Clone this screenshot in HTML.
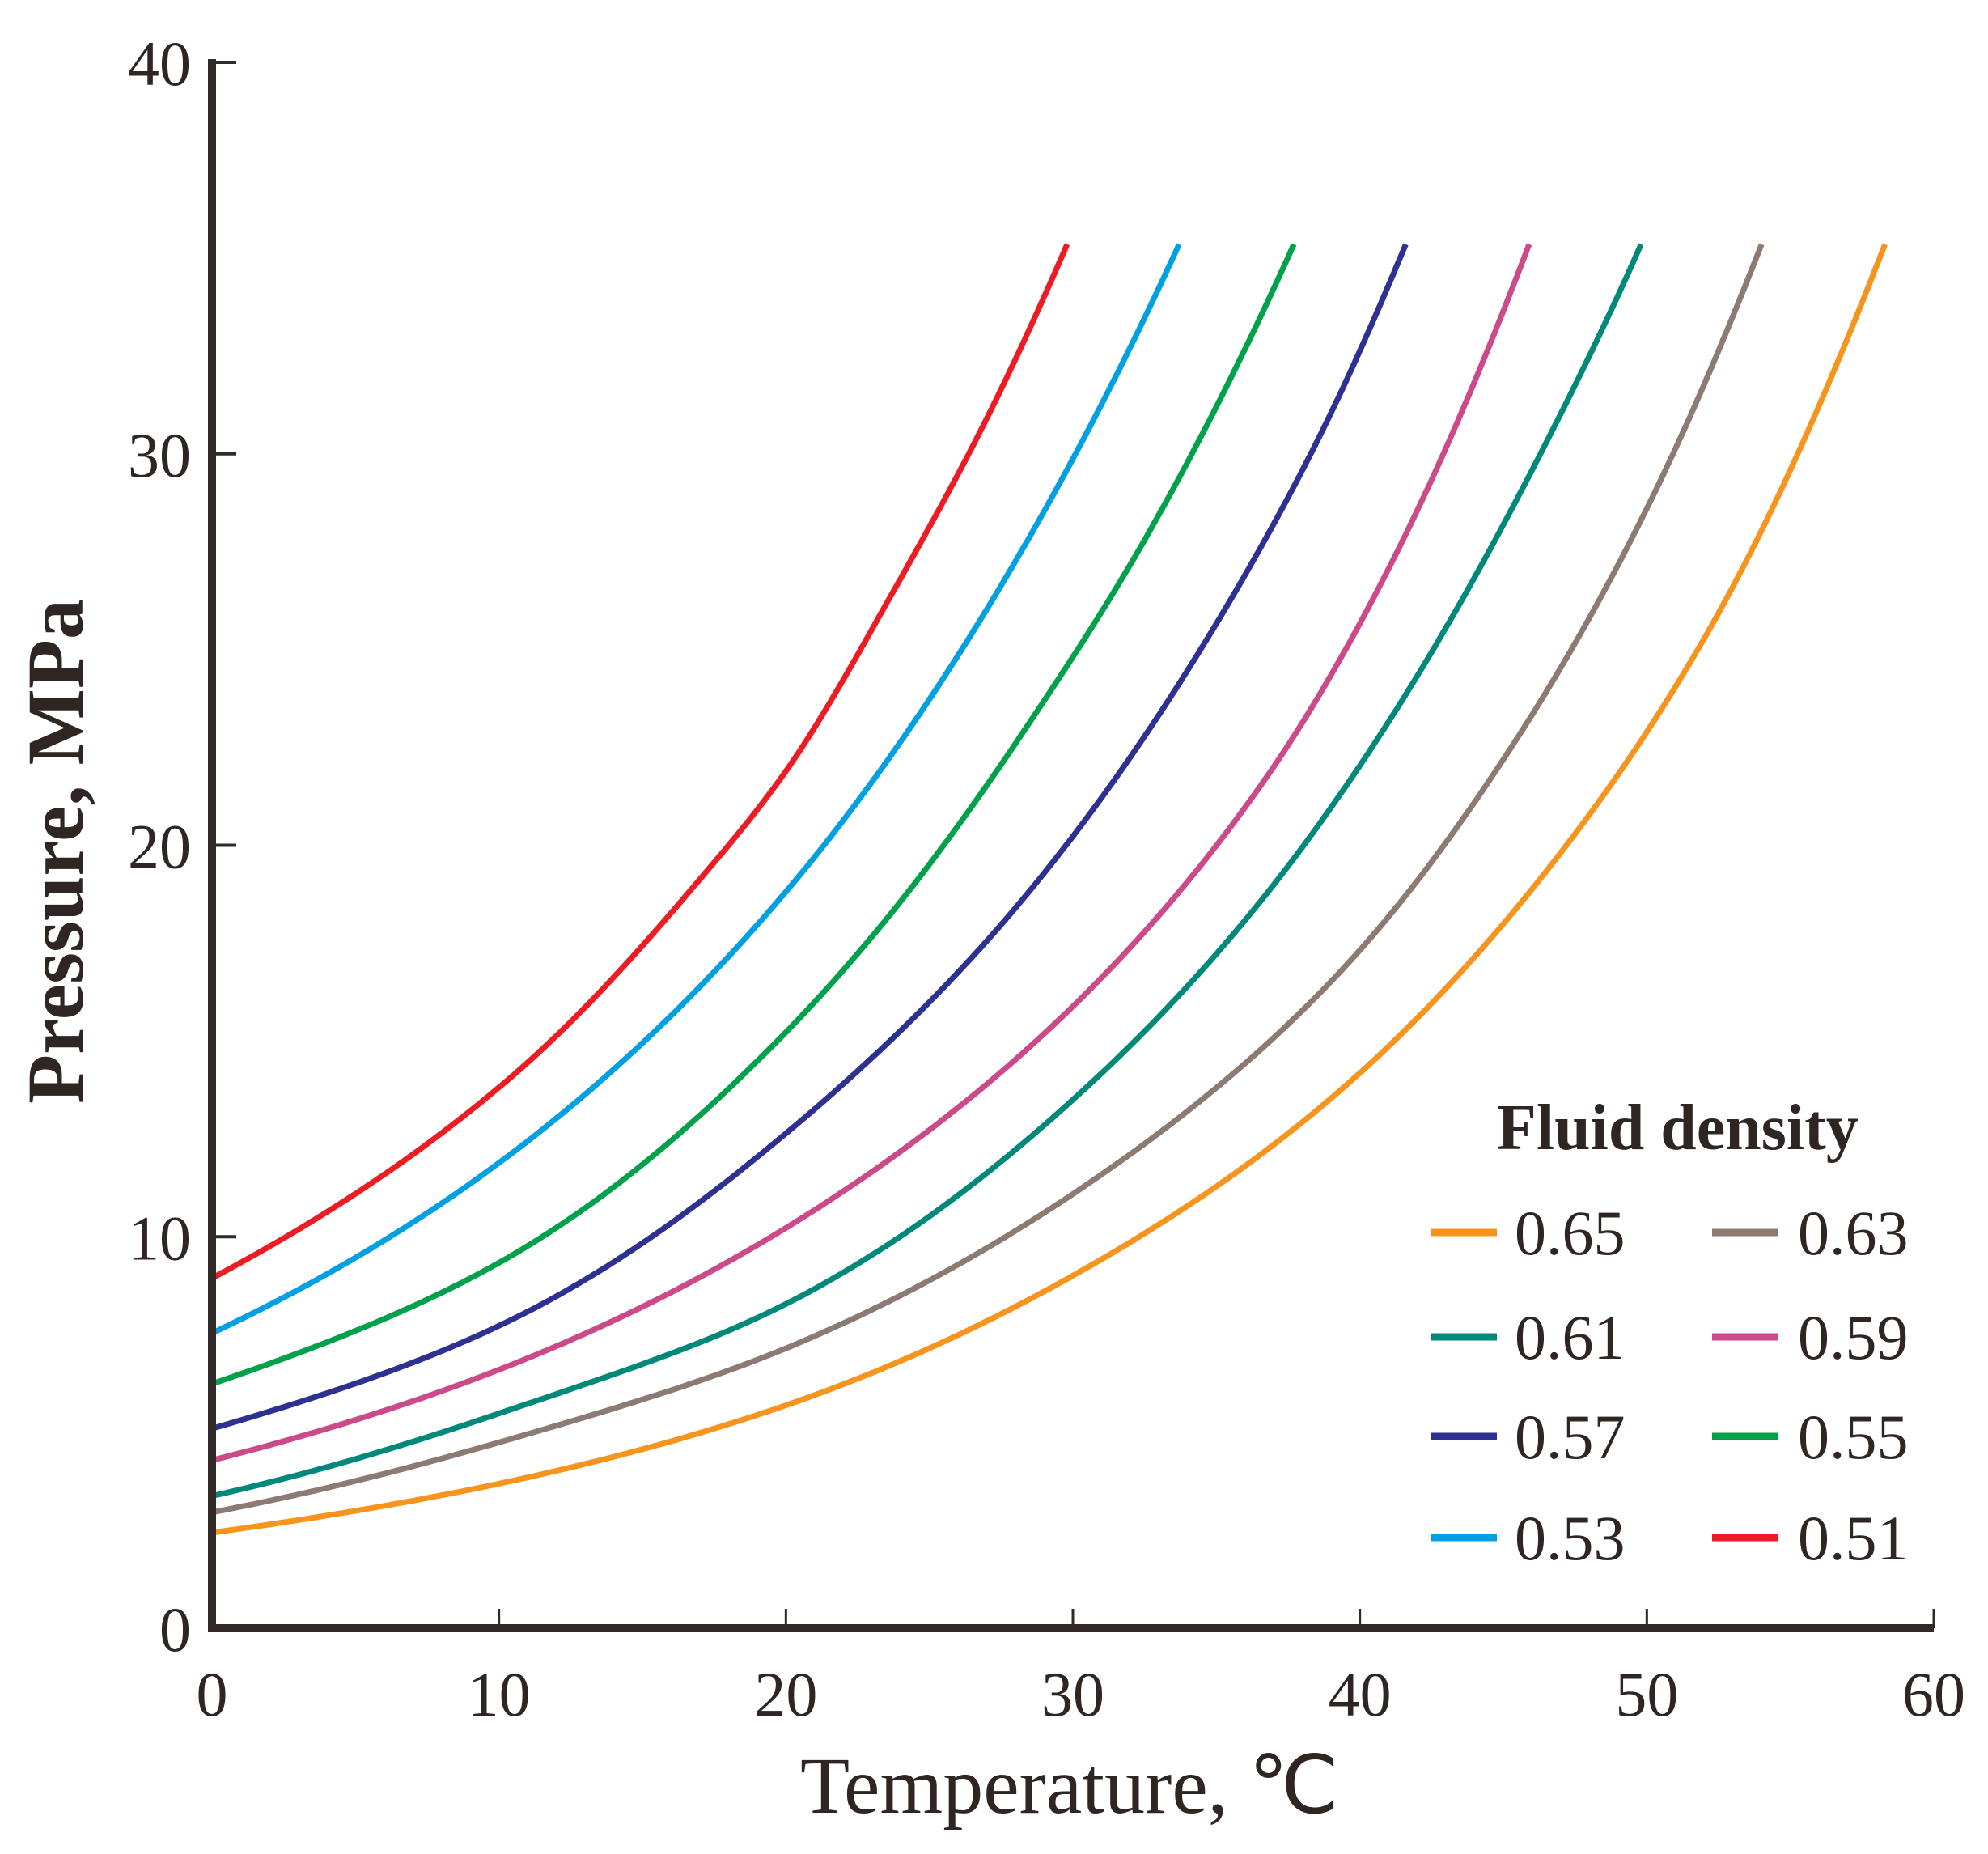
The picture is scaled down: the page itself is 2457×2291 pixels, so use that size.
<!DOCTYPE html>
<html><head><meta charset="utf-8"><style>
html,body{margin:0;padding:0;background:#fff;}
svg{display:block;}
text{font-family:"Liberation Serif",serif;fill:#2f2624;}
</style></head><body>
<svg id="chart" width="2457" height="2291" viewBox="0 0 2457 2291" xmlns="http://www.w3.org/2000/svg">
<g id="plot"></g>
<g id="axes"></g>
<g id="legend"></g>
</svg>
<script>
const xTicks=[0,10,20,30,40,50,60];
const yTicks=[0,10,20,30,40];
const seriesNames=["0.65","0.63","0.61","0.59","0.57","0.55","0.53","0.51"];
const seriesColors=["#f7941d","#8c7b73","#00897b","#cc4a8a","#2e3192","#00a14b","#00a0e3","#ed1c24"];
const tOrange=[0,10.3,20.1,30.3,39.1,45.8,52.4,58.3];
const pOrange=[2.44,3.74,5.72,9.13,13.6,18.7,25.8,35.35];
const tBrown=[0,10.3,20.1,30.3,39.1,45.8,50.2,54.0];
const pBrown=[2.96,4.81,7.18,11.24,16.6,23.1,28.9,35.35];
const tTeal=[0,10.3,20.1,30.3,36.9,41.3,45.8,49.8];
const pTeal=[3.38,5.56,8.32,13.7,18.9,23.5,29.3,35.35];
const tPink=[0,10.3,20.1,30.3,36.9,41.3,45.9];
const pPink=[4.29,6.69,10.27,16.1,21.9,27.5,35.35];
const tNavy=[0,10.3,20.1,28,34.7,38.7,41.6];
const pNavy=[5.1,7.83,12.7,18.4,25.3,30.6,35.35];
const tGreen=[0,10.3,20.1,28.0,32.5,37.7];
const pGreen=[6.24,9.46,15.3,22.6,27.8,35.35];
const tBlue=[0,10.3,20.1,26.3,29.8,33.7];
const pBlue=[7.54,12.05,18.9,25.2,29.6,35.35];
const tRed=[0,10.3,16.5,20.1,23.6,27.2,29.8];
const pRed=[8.94,14.0,18.7,22.0,26.3,31.2,35.35];
const seriesT=[tOrange,tBrown,tTeal,tPink,tNavy,tGreen,tBlue,tRed];
const seriesP=[pOrange,pBrown,pTeal,pPink,pNavy,pGreen,pBlue,pRed];

const X0=262,X1=2390,Y0=2012,Y1=77;
function xs(v){return X0+(v-0)/(60-0)*(X1-X0);}
function ys(v){return Y0-(v-0)/(40-0)*(Y0-Y1);}
const NS="http://www.w3.org/2000/svg";
function mk(tag,attrs,parent){const e=document.createElementNS(NS,tag);for(const k in attrs)e.setAttribute(k,attrs[k]);parent.appendChild(e);return e;}
const plot=document.getElementById('plot'),axes=document.getElementById('axes'),legend=document.getElementById('legend');

function pathFor(T,P){
  const L=P.map(p=>Math.log(p));
  const n=T.length;
  const pts=[];
  for(let i=0;i<n-1;i++){
    const i0=Math.max(0,i-1),i3=Math.min(n-1,i+2);
    const m1=(L[i+1]-L[i0])/(T[i+1]-T[i0]);
    const m2=(L[i3]-L[i])/(T[i3]-T[i]);
    const h=T[i+1]-T[i];
    for(let s=0;s<20;s++){
      const u=s/20,u2=u*u,u3=u2*u;
      const l=(2*u3-3*u2+1)*L[i]+(u3-2*u2+u)*h*m1+(-2*u3+3*u2)*L[i+1]+(u3-u2)*h*m2;
      pts.push([xs(T[i]+u*h),ys(Math.exp(l))]);
    }
  }
  pts.push([xs(T[n-1]),ys(P[n-1])]);
  return "M"+pts.map(p=>p[0].toFixed(1)+","+p[1].toFixed(1)).join(" L");
}
seriesNames.forEach((n,i)=>{
  const p=mk('path',{d:pathFor(seriesT[i],seriesP[i]),fill:'none',stroke:seriesColors[i],'stroke-width':7},plot);
  
  
});

const ax=mk('line',{x1:X0,y1:Y1-4,x2:X0,y2:Y0+5,stroke:'#322a28','stroke-width':10},axes);

const bx=mk('line',{x1:X0-5,y1:Y0,x2:X1,y2:Y0,stroke:'#322a28','stroke-width':10},axes);

xTicks.forEach(v=>{
  const t=mk('line',{x1:xs(v),y1:Y0,x2:xs(v),y2:Y0-24,stroke:'#322a28','stroke-width':3},axes);
  
  const l=mk('text',{x:xs(v),y:2120,'font-size':78,'text-anchor':'middle'},axes);
  l.textContent=v;
  
});
yTicks.forEach(v=>{
  const t=mk('line',{x1:X0,y1:ys(v),x2:X0+30,y2:ys(v),stroke:'#322a28','stroke-width':4},axes);
  
  const l=mk('text',{x:236,y:ys(v)+28,'font-size':78,'text-anchor':'end'},axes);
  l.textContent=v;
  
});
const xt=mk('text',{x:1322,y:2240,'font-size':100,'text-anchor':'middle'},axes);
xt.textContent='Temperature, ℃';

const yt=mk('text',{x:0,y:0,'font-size':100,'font-weight':'bold','text-anchor':'middle',transform:'translate(102,1052) rotate(-90)'},axes);
yt.textContent='Pressure, MPa';


const lt=mk('text',{x:1850,y:1420,'font-size':80,'font-weight':'bold'},legend);
lt.textContent='Fluid density';

const rowsY=[1523,1652,1775,1900];
const colSw=[1768,2116],colTx=[1872,2222];
seriesNames.forEach((n,i)=>{
  const r=Math.floor(i/2),c=i%2;
  const s=mk('line',{x1:colSw[c],y1:rowsY[r],x2:colSw[c]+82,y2:rowsY[r],stroke:seriesColors[i],'stroke-width':9},legend);
  
  const t=mk('text',{x:colTx[c],y:rowsY[r]+27,'font-size':78},legend);
  t.textContent=n;
  
});
</script>
</body></html>
